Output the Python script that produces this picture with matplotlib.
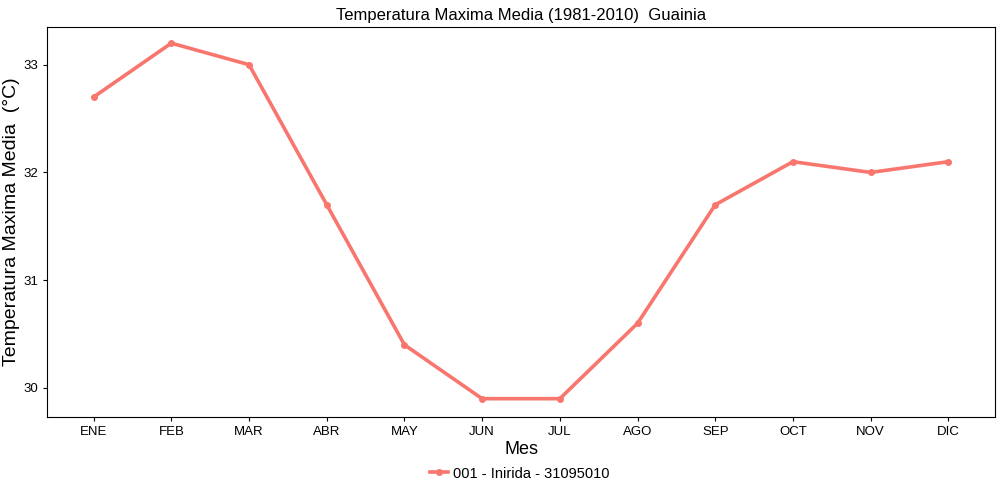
import matplotlib
matplotlib.use("Agg")
import matplotlib.pyplot as plt
from matplotlib.lines import Line2D

plt.rcParams['font.family'] = ['Liberation Sans', 'DejaVu Sans']

meses = ['ENE', 'FEB', 'MAR', 'ABR', 'MAY', 'JUN', 'JUL', 'AGO', 'SEP', 'OCT', 'NOV', 'DIC']
temp_max = [32.7, 33.2, 33.0, 31.7, 30.4, 29.9, 29.9, 30.6, 31.7, 32.1, 32.0, 32.1]
serie = '001 - Inirida - 31095010'
color = '#F8766D'

fig = plt.figure(figsize=(10, 5), dpi=100)
ax = fig.add_axes([0.047, 0.166, 0.948, 0.780])
x = list(range(1, len(meses) + 1))
ax.plot(x, temp_max, color=color, linewidth=2.6, marker='o', markersize=4)

ax.set_xlim(0.4, 12.6)
ax.set_ylim(29.73, 33.35)
ax.set_xticks(x)
ax.set_xticklabels(meses)
ax.set_yticks([30, 31, 32, 33])
ax.tick_params(labelsize=9.5, colors='black', length=3)
for s in ax.spines.values():
    s.set_color('black')
    s.set_linewidth(0.8)

ax.set_title('Temperatura Maxima Media (1981-2010)  Guainia', fontsize=12, pad=5)
ax.set_xlabel('Mes', fontsize=13, labelpad=2)
ax.set_ylabel('Temperatura Maxima Media  (°C)', fontsize=14)
ax.yaxis.set_label_coords(-0.028, 0.5)

h = Line2D([], [], color=color, linewidth=2.6, marker='o', markersize=4)
fig.legend([h], [serie], loc='center', bbox_to_anchor=(0.52, 0.053), frameon=False,
           fontsize=10.5, handlelength=1.2, handletextpad=0.4)

fig.savefig('out.png', dpi=100)
